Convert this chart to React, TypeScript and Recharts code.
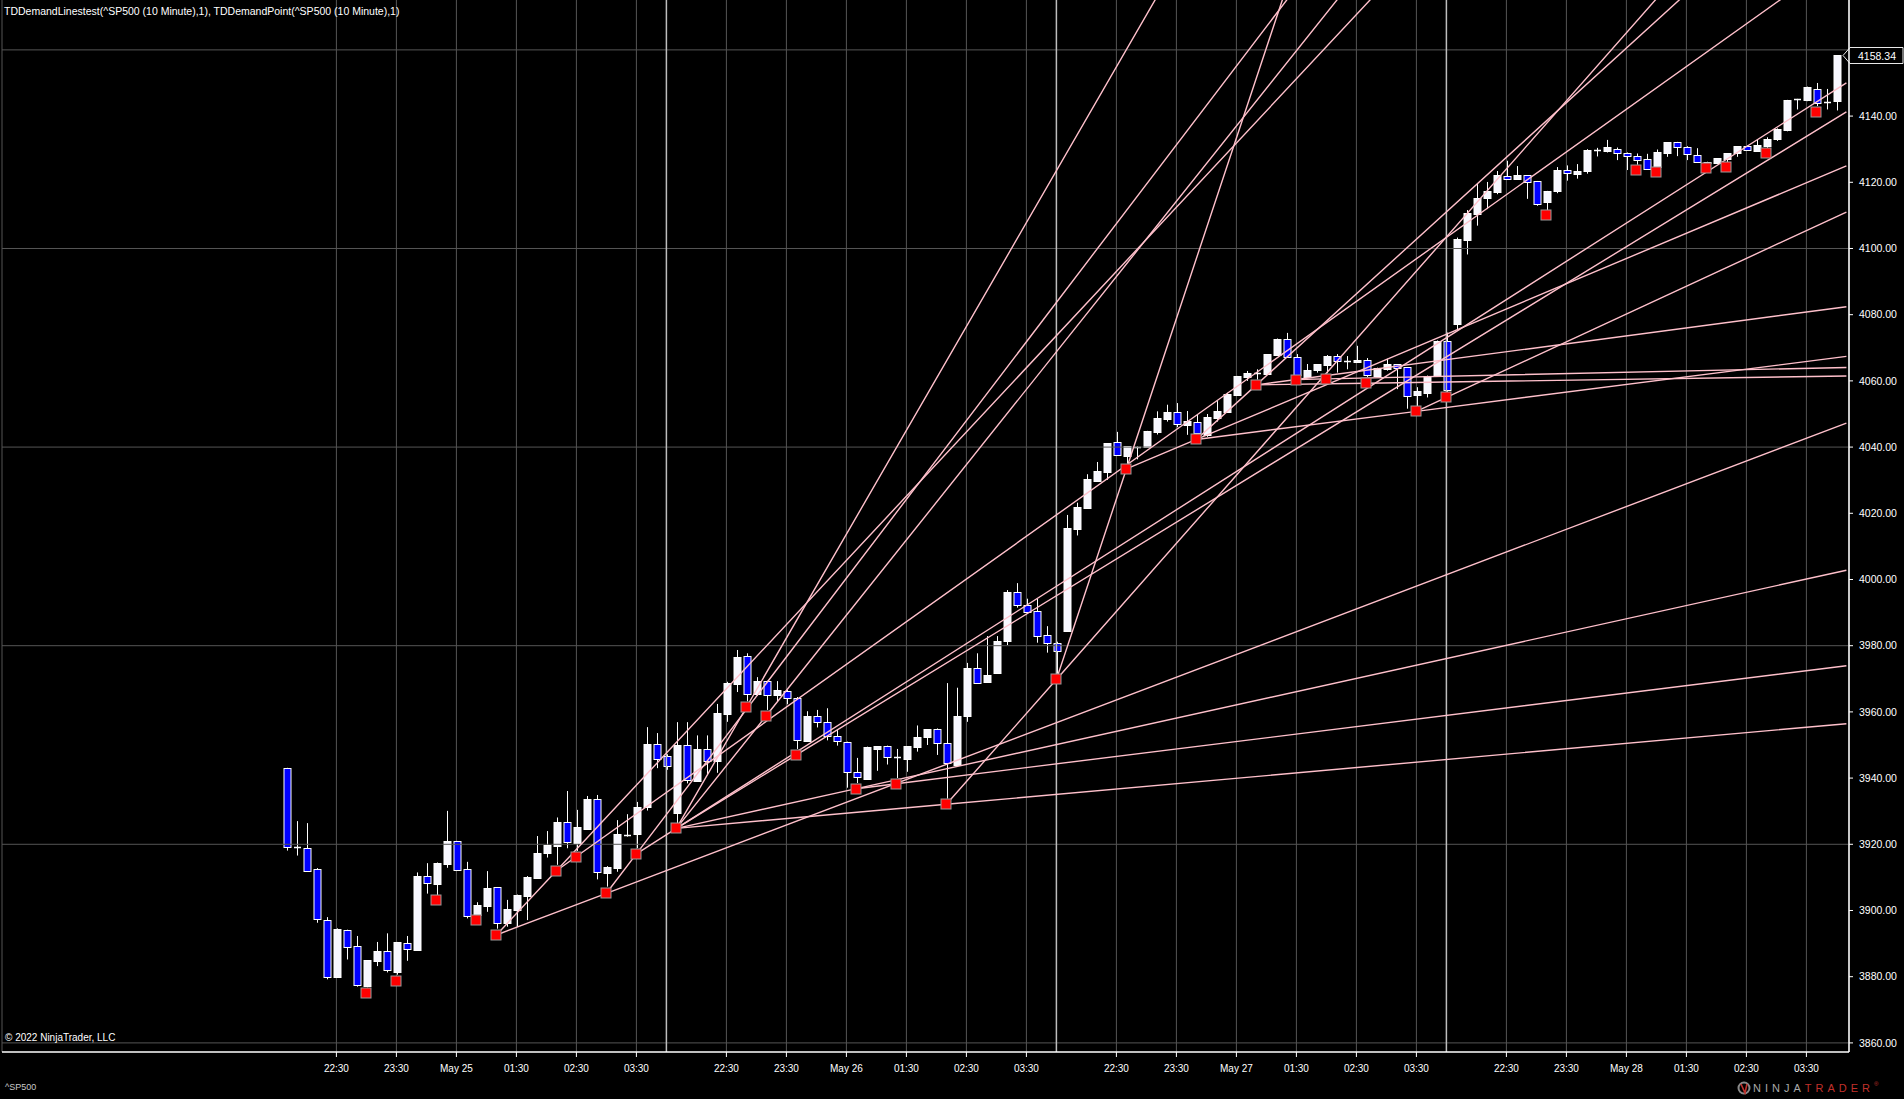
import React from 'react';
import {
  ComposedChart,
  Bar,
  Line,
  XAxis,
  YAxis,
  CartesianGrid,
  ReferenceLine,
} from 'recharts';

// 10 minute bars, four sessions of 39 bars each
const opens = [
  3942.9, 3919.1, 3918.8, 3912.4, 3897.0, 3880.0, 3894.0, 3889.2, 3877.2, 3884.8,
  3887.7, 3881.5, 3890.1, 3888.0, 3910.3, 3908.1, 3914.0, 3920.9, 3912.4, 3898.6,
  3901.4, 3907.1, 3896.3, 3900.3, 3904.5, 3909.9, 3917.4, 3919.5, 3926.6, 3920.5,
  3924.6, 3933.6, 3911.4, 3912.9, 3922.9, 3923.2, 3931.4, 3950.2, 3946.8,
  3929.6, 3949.9, 3939.2, 3948.8, 3945.3, 3959.5, 3968.5, 3977.0, 3965.3, 3969.2,
  3965.1, 3966.4, 3964.3, 3951.2, 3958.7, 3956.9, 3952.6, 3950.8, 3941.7, 3939.8,
  3948.9, 3949.6, 3946.3, 3945.9, 3949.5, 3952.3, 3954.8, 3950.5, 3943.9, 3958.8,
  3973.2, 3969.1, 3971.8, 3981.5, 3996.1, 3992.2, 3990.5, 3983.1, 3980.7,
  3984.5, 4015.4, 4021.7, 4029.9, 4032.6, 4041.5, 4037.4, 4040.1, 4040.1, 4044.6,
  4048.6, 4050.5, 4046.8, 4047.7, 4043.6, 4048.8, 4050.6, 4055.7, 4061.2, 4062.5,
  4062.1, 4067.8, 4072.8, 4067.1, 4061.1, 4063.3, 4064.9, 4067.4, 4065.9, 4065.6,
  4066.3, 4061.6, 4063.5, 4065.0, 4064.1, 4055.8, 4056.3, 4061.5, 4072.1,
  4077.3, 4102.7, 4110.5, 4115.3, 4117.2, 4121.8, 4121.1, 4122.1, 4120.3, 4113.9,
  4117.4, 4123.6, 4122.6, 4123.3, 4129.7, 4129.6, 4130.2, 4128.7, 4127.8, 4126.9,
  4124.5, 4128.9, 4132.1, 4130.8, 4128.3, 4125.8, 4125.9, 4127.1, 4128.7, 4131.0,
  4129.5, 4130.9, 4133.0, 4135.9, 4145.1, 4144.9, 4148.3, 4144.4, 4144.6,
];
const highs = [
  3943.1, 3927.0, 3926.4, 3912.8, 3898.0, 3894.6, 3894.2, 3892.3, 3885.0, 3890.5,
  3893.1, 3890.5, 3892.3, 3911.5, 3914.3, 3914.5, 3930.1, 3921.0, 3914.7, 3902.5,
  3911.9, 3907.1, 3903.2, 3904.8, 3910.4, 3922.5, 3924.0, 3928.1, 3936.1, 3930.4,
  3934.6, 3934.9, 3913.4, 3927.3, 3929.1, 3932.8, 3955.4, 3953.6, 3947.2,
  3956.9, 3956.9, 3952.9, 3952.9, 3962.4, 3969.1, 3978.7, 3977.7, 3970.5, 3969.4,
  3969.3, 3966.6, 3964.5, 3960.2, 3960.6, 3961.1, 3954.5, 3951.0, 3946.1, 3949.5,
  3949.6, 3949.8, 3948.8, 3949.6, 3955.9, 3954.8, 3955.0, 3968.7, 3967.3, 3974.8,
  3977.7, 3982.9, 3982.9, 3996.8, 3998.9, 3994.2, 3994.1, 3985.9, 3981.2,
  4019.5, 4023.2, 4031.8, 4035.5, 4041.1, 4044.6, 4040.2, 4040.2, 4044.9, 4050.8,
  4052.8, 4053.3, 4050.9, 4049.9, 4050.0, 4053.9, 4056.4, 4061.5, 4063.0, 4063.5,
  4068.1, 4072.8, 4074.5, 4068.1, 4065.1, 4065.1, 4067.8, 4068.1, 4067.5, 4070.6,
  4066.9, 4064.0, 4066.7, 4065.1, 4064.2, 4058.1, 4061.6, 4072.2, 4074.6,
  4103.3, 4111.6, 4119.5, 4120.1, 4123.4, 4126.5, 4124.9, 4122.2, 4120.4, 4117.4,
  4124.6, 4125.1, 4125.5, 4130.0, 4130.4, 4132.8, 4130.5, 4129.0, 4128.7, 4128.6,
  4129.9, 4132.1, 4132.2, 4130.9, 4130.3, 4126.2, 4127.3, 4128.7, 4130.9, 4131.1,
  4132.9, 4133.6, 4136.3, 4144.9, 4145.2, 4148.9, 4150.0, 4148.2, 4158.34,
];
const lows = [
  3918.1, 3916.6, 3911.7, 3896.3, 3879.2, 3880.0, 3885.2, 3877.0, 3876.8, 3883.2,
  3881.3, 3880.6, 3884.8, 3888.0, 3905.1, 3904.7, 3912.9, 3912.1, 3897.6, 3898.6,
  3899.6, 3894.5, 3895.1, 3895.0, 3897.1, 3909.9, 3916.0, 3913.8, 3918.8, 3918.0,
  3924.6, 3909.4, 3907.2, 3911.7, 3922.3, 3918.8, 3930.2, 3943.0, 3942.5,
  3926.4, 3938.4, 3939.2, 3940.9, 3941.6, 3957.0, 3966.0, 3963.2, 3964.8, 3960.6,
  3963.3, 3962.3, 3948.8, 3951.2, 3955.3, 3951.4, 3949.8, 3937.1, 3938.5, 3939.8,
  3942.2, 3944.1, 3940.0, 3941.9, 3948.0, 3950.0, 3947.0, 3933.8, 3943.9, 3957.0,
  3968.6, 3968.8, 3971.5, 3980.2, 3991.5, 3989.8, 3980.9, 3977.9, 3971.5,
  3984.3, 4013.3, 4021.5, 4029.7, 4030.1, 4037.3, 4035.0, 4036.3, 4040.0, 4043.8,
  4047.7, 4046.0, 4043.7, 4043.8, 4043.1, 4047.7, 4050.5, 4055.6, 4060.0, 4060.4,
  4062.0, 4067.7, 4067.2, 4061.7, 4061.0, 4062.5, 4062.3, 4062.5, 4063.5, 4065.5,
  4061.2, 4061.5, 4063.1, 4057.5, 4051.6, 4052.3, 4055.0, 4061.4, 4056.5,
  4075.5, 4098.2, 4106.9, 4111.9, 4116.4, 4121.0, 4121.0, 4115.0, 4112.9, 4111.6,
  4116.7, 4120.5, 4121.1, 4122.6, 4127.8, 4129.0, 4126.7, 4123.7, 4125.3, 4123.9,
  4124.4, 4127.7, 4127.9, 4126.7, 4126.0, 4125.7, 4125.8, 4126.1, 4127.7, 4129.5,
  4129.4, 4130.4, 4132.5, 4135.4, 4142.0, 4144.5, 4143.0, 4142.0, 4141.7,
];
const closes = [
  3919.1, 3919.1, 3912.0, 3897.3, 3879.8, 3894.4, 3888.9, 3877.4, 3885.0, 3887.8,
  3881.9, 3890.5, 3888.3, 3910.4, 3908.2, 3914.3, 3921.0, 3912.1, 3898.4, 3901.6,
  3906.8, 3896.3, 3900.4, 3904.8, 3910.1, 3917.3, 3919.7, 3926.7, 3920.6, 3925.1,
  3933.6, 3911.5, 3913.1, 3923.0, 3922.9, 3931.2, 3950.2, 3945.9, 3943.8,
  3949.9, 3939.4, 3948.8, 3945.2, 3959.6, 3968.6, 3976.5, 3965.5, 3969.2, 3965.2,
  3966.5, 3964.3, 3951.6, 3958.9, 3956.9, 3952.6, 3951.1, 3941.7, 3940.2, 3949.5,
  3949.6, 3946.3, 3946.3, 3949.6, 3952.4, 3954.8, 3950.7, 3944.5, 3958.7, 3973.3,
  3968.8, 3971.1, 3981.4, 3996.2, 3992.2, 3990.1, 3983.0, 3980.7, 3978.4,
  4015.6, 4021.9, 4030.3, 4032.7, 4041.1, 4037.5, 4040.2, 4040.1, 4044.9, 4048.8,
  4050.6, 4046.9, 4047.9, 4044.2, 4049.0, 4051.0, 4056.0, 4061.5, 4062.4, 4062.5,
  4068.1, 4072.8, 4067.3, 4061.7, 4063.3, 4065.1, 4067.5, 4065.9, 4065.9, 4066.4,
  4061.7, 4063.8, 4065.0, 4063.8, 4055.5, 4056.8, 4061.6, 4072.2, 4057.1,
  4102.8, 4110.6, 4115.4, 4117.4, 4122.1, 4121.1, 4122.1, 4120.0, 4113.5, 4117.4,
  4123.7, 4122.7, 4123.4, 4129.7, 4129.7, 4130.7, 4128.7, 4127.9, 4126.6, 4123.9,
  4129.0, 4132.1, 4130.7, 4128.5, 4126.0, 4126.1, 4127.3, 4128.7, 4130.9, 4129.8,
  4131.2, 4133.2, 4136.1, 4144.9, 4145.1, 4148.7, 4144.0, 4144.4, 4158.34,
];

// TD demand points (bar index, price)
const dpBars = [
  8, 11, 15, 19, 21, 27, 29, 32, 35, 39, 46, 48, 51, 57, 61, 66, 77, 84, 91, 97,
  101, 104, 108, 113, 116, 126, 135, 137, 142, 144, 148, 153,
];
const dpValues = [
  3875.0, 3878.6, 3903.1, 3897.1, 3892.6, 3912.0, 3916.3, 3905.2, 3917.1, 3924.8,
  3961.4, 3958.9, 3947.0, 3936.8, 3938.3, 3932.1, 3969.8, 4033.4, 4042.3, 4058.8,
  4060.4, 4060.6, 4059.3, 4050.8, 4055.0, 4110.0, 4123.6, 4123.0, 4124.2, 4124.6,
  4128.8, 4141.2,
];

// demand lines: pairs of demand point bars, extended to the right edge
const demandPairs = [
  [21, 27], [27, 29], [21, 32], [32, 35], [35, 39], [39, 46], [39, 48], [39, 51],
  [39, 57], [57, 61], [39, 66], [66, 77], [77, 84], [84, 91], [91, 97], [97, 101],
  [101, 104], [97, 108], [91, 113], [113, 116],
];

const tickBars = [
  5, 11, 17, 23, 29, 35, 44, 50, 56, 62, 68, 74,
  83, 89, 95, 101, 107, 113, 122, 128, 134, 140, 146, 152,
];
const tickLabels = [
  '22:30', '23:30', 'May 25', '01:30', '02:30', '03:30',
  '22:30', '23:30', 'May 26', '01:30', '02:30', '03:30',
  '22:30', '23:30', 'May 27', '01:30', '02:30', '03:30',
  '22:30', '23:30', 'May 28', '01:30', '02:30', '03:30',
];
const sessionBreaks = [38, 77, 116];
const priceTicks = [3860, 3880, 3900, 3920, 3940, 3960, 3980, 4000, 4020, 4040, 4060, 4080, 4100, 4120, 4140];
const gridPrices = [3860, 3920, 3980, 4040, 4100, 4160];
const lastPrice = 4158.34;

const LAST = opens.length; // extra empty slot where the lines end

const data = Array.from({ length: LAST + 1 }, (_, i) => {
  const row: any = { i };
  if (i < LAST) {
    row.o = opens[i];
    row.h = highs[i];
    row.l = lows[i];
    row.c = closes[i];
    row.range = [lows[i], highs[i]];
  }
  const k = dpBars.indexOf(i);
  row.dp = k >= 0 ? dpValues[k] : null;
  demandPairs.forEach(([a, b], n) => {
    const va = dpValues[dpBars.indexOf(a)];
    const vb = dpValues[dpBars.indexOf(b)];
    if (i === a) row[`dl${n}`] = va;
    else if (i === b) row[`dl${n}`] = vb;
    else if (i === LAST) row[`dl${n}`] = va + ((vb - va) / (b - a)) * (LAST - a);
    else row[`dl${n}`] = null;
  });
  return row;
});

const Candle = (props: any) => {
  const { x, y, width, height, payload } = props;
  if (payload == null || payload.h == null) return <g />;
  const { o, h, l, c } = payload;
  const span = h - l || 1;
  const yOf = (v: number) => y + ((h - v) / span) * height;
  const cx = Math.round(x + width / 2) + 0.5;
  const top = Math.round(yOf(Math.max(o, c))) + 0.5;
  const bot = Math.round(yOf(Math.min(o, c))) + 0.5;
  const left = cx - 3.5;
  const up = c >= o;
  return (
    <g>
      <line x1={cx} x2={cx} y1={y} y2={y + height} stroke="#ffffff" strokeWidth={1} />
      {bot - top < 1 ? (
        <line x1={left} x2={left + 7} y1={top} y2={top} stroke="#ffffff" strokeWidth={1.5} />
      ) : (
        <rect x={left} y={top} width={7} height={bot - top} fill={up ? '#f7f7ff' : '#0000ff'} stroke="#ffffff" strokeWidth={1} />
      )}
    </g>
  );
};

const DemandDot = (props: any) => {
  const { cx, cy, payload, index } = props;
  if (payload == null || payload.dp == null || cy == null) return <g key={`d${index}`} />;
  return (
    <rect key={`d${index}`} x={Math.round(cx) - 5} y={Math.round(cy) - 5} width={10} height={10} fill="#ff0000" stroke="#9a9a9a" strokeWidth={1} />
  );
};

const PriceMarker = (props: any) => {
  const { viewBox } = props;
  const xr = viewBox.x + viewBox.width;
  const yc = Math.round(viewBox.y) + 0.5;
  return (
    <g>
      <polygon
        points={`${xr - 6},${yc} ${xr + 1},${yc - 8} ${xr + 54},${yc - 8} ${xr + 54},${yc + 8} ${xr + 1},${yc + 8}`}
        fill="#000000"
        stroke="#e8e8e8"
        strokeWidth={1}
      />
      <text x={xr + 28} y={yc + 4} textAnchor="middle" fill="#ffffff" fontSize={10.5} fontFamily="Arial, 'Liberation Sans', sans-serif">
        {lastPrice.toFixed(2)}
      </text>
    </g>
  );
};

const font = "Arial, 'Liberation Sans', sans-serif";

export default function App() {
  return (
    <div style={{ position: 'absolute', left: 0, top: 0, width: 1904, height: 1099, background: '#000000', fontFamily: font }}>
      <ComposedChart width={1904} height={1099} data={data} margin={{ top: 0, right: 0, left: 2, bottom: 0 }}>
        <CartesianGrid horizontal={false} stroke="#555555" strokeWidth={1} />
        {gridPrices.map((p) => (
          <ReferenceLine key={`g${p}`} y={p} stroke="#555555" strokeWidth={1} ifOverflow="visible" />
        ))}
        {sessionBreaks.map((b) => (
          <ReferenceLine key={`s${b}`} x={b} stroke="#bdbdbd" strokeWidth={1.5} />
        ))}
        <XAxis
          dataKey="i"
          type="category"
          height={47}
          padding={{ left: 279.4, right: -2.4 }}
          ticks={tickBars}
          interval={0}
          tickFormatter={(v: number) => tickLabels[tickBars.indexOf(v)] ?? ''}
          axisLine={{ stroke: '#ffffff', strokeWidth: 1.5 }}
          tickLine={{ stroke: '#ffffff' }}
          tickSize={5}
          tickMargin={8}
          tick={{ fill: '#ffffff', fontSize: 10, fontFamily: font }}
        />
        <YAxis
          orientation="right"
          type="number"
          width={55}
          domain={[3857.25, 4175.07]}
          allowDataOverflow
          ticks={priceTicks}
          interval={0}
          tickFormatter={(v: number) => v.toFixed(2)}
          axisLine={{ stroke: '#ffffff', strokeWidth: 1.5 }}
          tickLine={{ stroke: '#ffffff' }}
          tickSize={4}
          tickMargin={6}
          tick={{ fill: '#ffffff', fontSize: 10.5, fontFamily: font }}
        />
        <Bar dataKey="range" barSize={7} shape={Candle} isAnimationActive={false} />
        {demandPairs.map((_, n) => (
          <Line
            key={`dl${n}`}
            dataKey={`dl${n}`}
            type="linear"
            connectNulls
            stroke="#ffc0cb"
            strokeWidth={1.4}
            dot={false}
            activeDot={false}
            isAnimationActive={false}
          />
        ))}
        <Line dataKey="dp" stroke="none" dot={DemandDot} activeDot={false} isAnimationActive={false} />
        <ReferenceLine y={lastPrice} stroke="none" ifOverflow="visible" label={<PriceMarker />} />
      </ComposedChart>

      <div style={{ position: 'absolute', left: 4, top: 5, color: '#ffffff', fontSize: 10.5, whiteSpace: 'nowrap', lineHeight: '13px' }}>
        TDDemandLinestest(^SP500 (10 Minute),1), TDDemandPoint(^SP500 (10 Minute),1)
      </div>
      <div style={{ position: 'absolute', left: 5, top: 1032, color: '#ffffff', fontSize: 10, whiteSpace: 'nowrap' }}>
        © 2022 NinjaTrader, LLC
      </div>
      <div style={{ position: 'absolute', left: 5, top: 1082, color: '#c8c8c8', fontSize: 9, whiteSpace: 'nowrap' }}>
        ^SP500
      </div>
      <div style={{ position: 'absolute', left: 1737, top: 1081, display: 'flex', alignItems: 'center', whiteSpace: 'nowrap' }}>
        <svg width={14} height={14} style={{ marginRight: 2 }}>
          <circle cx={7} cy={7} r={5.5} fill="none" stroke="#8a8a8a" strokeWidth={2} />
          <path d="M4 3 L8 12 L10 3" fill="none" stroke="#c0302b" strokeWidth={1.6} />
        </svg>
        <span style={{ color: '#a8a8a8', fontSize: 11, letterSpacing: 4, fontWeight: 300 }}>NINJA</span>
        <span style={{ color: '#c0302b', fontSize: 11, letterSpacing: 4, fontWeight: 300 }}>TRADER</span>
        <span style={{ color: '#c0302b', fontSize: 6, alignSelf: 'flex-start' }}>®</span>
      </div>
    </div>
  );
}
